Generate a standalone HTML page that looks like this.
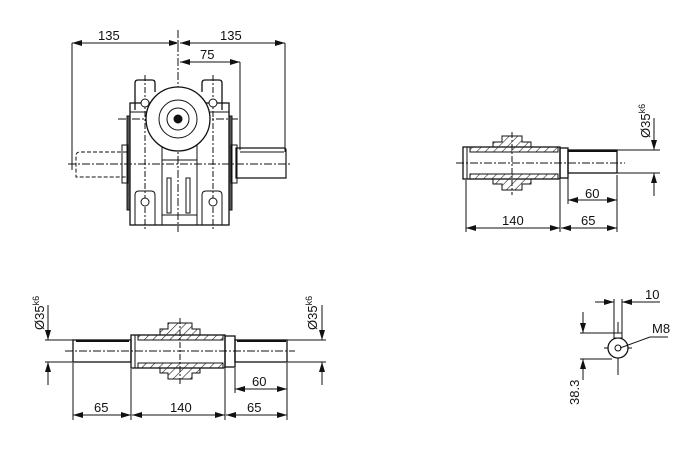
<!DOCTYPE html>
<html><head><meta charset="utf-8"><style>
html,body{margin:0;padding:0;background:#fff;}
svg{display:block;}
text{font-family:"Liberation Sans",Arial,sans-serif;font-size:13px;fill:#111;}
</style></head><body>
<svg width="694" height="449" viewBox="0 0 694 449" xmlns="http://www.w3.org/2000/svg">
<defs>
<marker id="a" viewBox="0 0 10 6" refX="10" refY="3" markerWidth="10" markerHeight="6" orient="auto-start-reverse" markerUnits="userSpaceOnUse"><path d="M0,0L10,3L0,6z" fill="#111"/></marker>
<pattern id="h" width="6" height="6" patternUnits="userSpaceOnUse" patternTransform="rotate(45)"><line x1="0" y1="0" x2="0" y2="6" stroke="#222" stroke-width="1.2"/></pattern>
</defs>
<g stroke="#111" fill="none" stroke-width="1">
<line x1="72" y1="43" x2="72" y2="170"/><line x1="285" y1="43" x2="285" y2="152"/><line x1="240" y1="62" x2="240" y2="150"/>
<line x1="72" y1="43" x2="179" y2="43" marker-start="url(#a)" marker-end="url(#a)"/>
<line x1="180" y1="43" x2="285" y2="43" marker-start="url(#a)" marker-end="url(#a)"/>
<line x1="180" y1="62" x2="240" y2="62" marker-start="url(#a)" marker-end="url(#a)"/>
<line x1="178" y1="30" x2="178" y2="232" stroke-dasharray="8,2,2,2"/>
<line x1="118" y1="119" x2="240" y2="119" stroke-dasharray="8,2,2,2"/>
<line x1="68" y1="164" x2="290" y2="164" stroke-dasharray="8,2,2,2"/>
<line x1="145" y1="75" x2="145" y2="230" stroke-dasharray="6,2,2,2"/>
<line x1="213" y1="75" x2="213" y2="230" stroke-dasharray="6,2,2,2"/>
<path d="M135,110 V83 Q135,80 138,80 H152 Q155,80 155,83 V92 M202,92 V83 Q202,80 205,80 H219 Q222,80 222,83 V110" stroke-width="1.3"/>
<rect x="130" y="103" width="99" height="122" stroke-width="1.3"/>
<line x1="130" y1="112" x2="229" y2="112"/>
<line x1="162" y1="140" x2="162" y2="225"/><line x1="197" y1="140" x2="197" y2="225"/>
<line x1="162" y1="160" x2="197" y2="160"/><line x1="162" y1="215" x2="197" y2="215"/>
<rect x="167" y="178" width="4" height="35"/><rect x="186" y="178" width="4" height="35"/>
<path d="M135,225 V195 Q135,191 139,191 H151 Q155,191 155,195 V225 M202,225 V195 Q202,191 206,191 H218 Q222,191 222,195 V225"/>
<rect x="127" y="116" width="3" height="94" fill="#555"/><rect x="229" y="116" width="3" height="94" fill="#555"/>
<rect x="122" y="145" width="6" height="38"/><rect x="231" y="145" width="6" height="38"/>
<circle cx="178" cy="119" r="32" fill="#fff" stroke-width="1.3"/>
<circle cx="178" cy="119" r="19"/><circle cx="178" cy="119" r="11"/><circle cx="178" cy="119" r="4" fill="#111"/>
<circle cx="145" cy="103" r="4" fill="#fff"/><circle cx="213" cy="103" r="4" fill="#fff"/>
<circle cx="145" cy="202" r="4" fill="#fff"/><circle cx="213" cy="202" r="4" fill="#fff"/>
<path d="M236,148 H284 Q286,148 286,150 V178 H236 Z" stroke-width="1.2"/>
<line x1="240" y1="152" x2="284" y2="152"/>
<path d="M127,152 H80 Q76,152 76,156 V177 H127" stroke-dasharray="4,2"/>
<line x1="456" y1="163" x2="625" y2="163" stroke-dasharray="8,2,2,2"/>
<line x1="512" y1="132" x2="512" y2="195" stroke-dasharray="6,2,2,2"/>
<rect x="463" y="147" width="97" height="32" stroke-width="1.3"/>
<line x1="467" y1="147" x2="467" y2="179"/>
<path d="M470,147 H493 V142 H502 V136 H522 V142 H531 V147 H558 V152 H470Z" fill="url(#h)"/>
<path d="M470,179 H493 V184 H502 V190 H522 V184 H531 V179 H558 V174 H470Z" fill="url(#h)"/>
<rect x="560" y="148" width="8" height="30" stroke-width="1.3"/>
<rect x="568" y="150" width="49" height="23" stroke-width="1.3"/>
<line x1="568" y1="151" x2="617" y2="151" stroke-width="2"/>
<line x1="617" y1="150" x2="660" y2="150"/><line x1="617" y1="173" x2="660" y2="173"/>
<line x1="654" y1="118" x2="654" y2="150" marker-end="url(#a)"/>
<line x1="654" y1="196" x2="654" y2="173" marker-end="url(#a)"/>
<line x1="466" y1="180" x2="466" y2="232"/><line x1="560" y1="180" x2="560" y2="232"/><line x1="617" y1="175" x2="617" y2="232"/><line x1="568" y1="178" x2="568" y2="204"/>
<line x1="568" y1="200" x2="617" y2="200" marker-start="url(#a)" marker-end="url(#a)"/>
<line x1="466" y1="228" x2="560" y2="228" marker-start="url(#a)" marker-end="url(#a)"/>
<line x1="561" y1="228" x2="617" y2="228" marker-start="url(#a)" marker-end="url(#a)"/>
<line x1="65" y1="351" x2="295" y2="351" stroke-dasharray="8,2,2,2"/>
<line x1="180" y1="318" x2="180" y2="384" stroke-dasharray="6,2,2,2"/>
<rect x="73" y="340" width="58" height="22" stroke-width="1.3"/>
<line x1="76" y1="341" x2="129" y2="341" stroke-width="2"/>
<rect x="131" y="335" width="94" height="33" stroke-width="1.3"/>
<line x1="135" y1="335" x2="135" y2="368"/>
<path d="M138,335 H160 V329 H168 V323 H192 V329 H200 V335 H223 V340 H138Z" fill="url(#h)"/>
<path d="M138,368 H160 V373 H168 V379 H192 V373 H200 V368 H223 V363 H138Z" fill="url(#h)"/>
<rect x="225" y="336" width="10" height="31" stroke-width="1.3"/>
<rect x="235" y="340" width="52" height="22" stroke-width="1.3"/>
<line x1="237" y1="341" x2="286" y2="341" stroke-width="2"/>
<line x1="45" y1="340" x2="73" y2="340"/><line x1="45" y1="362" x2="73" y2="362"/>
<line x1="287" y1="340" x2="326" y2="340"/><line x1="287" y1="362" x2="326" y2="362"/>
<line x1="48" y1="305" x2="48" y2="340" marker-end="url(#a)"/><line x1="48" y1="385" x2="48" y2="362" marker-end="url(#a)"/>
<line x1="322" y1="305" x2="322" y2="340" marker-end="url(#a)"/><line x1="322" y1="385" x2="322" y2="362" marker-end="url(#a)"/>
<line x1="73" y1="363" x2="73" y2="420"/><line x1="131" y1="369" x2="131" y2="420"/><line x1="225" y1="369" x2="225" y2="420"/><line x1="287" y1="363" x2="287" y2="420"/><line x1="235" y1="368" x2="235" y2="393"/>
<line x1="235" y1="389" x2="287" y2="389" marker-start="url(#a)" marker-end="url(#a)"/>
<line x1="73" y1="415" x2="131" y2="415" marker-start="url(#a)" marker-end="url(#a)"/>
<line x1="132" y1="415" x2="225" y2="415" marker-start="url(#a)" marker-end="url(#a)"/>
<line x1="226" y1="415" x2="287" y2="415" marker-start="url(#a)" marker-end="url(#a)"/>
<line x1="604" y1="348" x2="632" y2="348"/><line x1="618" y1="322" x2="618" y2="375"/>
<circle cx="618" cy="348" r="10" fill="#fff" stroke-width="1.3"/>
<circle cx="618" cy="348" r="3"/>
<rect x="614" y="333" width="8" height="5" fill="#fff"/>
<line x1="614" y1="299" x2="614" y2="334"/><line x1="622" y1="299" x2="622" y2="334"/>
<line x1="595" y1="302" x2="614" y2="302" marker-end="url(#a)"/>
<line x1="640" y1="302" x2="622" y2="302" marker-end="url(#a)"/>
<line x1="622" y1="302" x2="660" y2="302"/>
<line x1="620" y1="348" x2="650" y2="337"/><line x1="650" y1="337" x2="668" y2="337"/>
<line x1="580" y1="333" x2="614" y2="333"/><line x1="580" y1="359" x2="612" y2="359"/>
<line x1="583" y1="312" x2="583" y2="333" marker-end="url(#a)"/>
<line x1="583" y1="380" x2="583" y2="359" marker-end="url(#a)"/>
</g>
<text x="98" y="40">135</text><text x="220" y="40">135</text><text x="200" y="59">75</text>
<text x="585" y="198">60</text><text x="502" y="225">140</text><text x="581" y="225">65</text>
<text x="252" y="386">60</text><text x="94" y="412">65</text><text x="170" y="412">140</text><text x="247" y="412">65</text>
<text x="645" y="299">10</text><text x="652" y="333">M8</text>
<text transform="translate(650,138) rotate(-90)">Ø35<tspan font-size="9" dy="-5">k6</tspan></text>
<text transform="translate(44,330) rotate(-90)">Ø35<tspan font-size="9" dy="-5">k6</tspan></text>
<text transform="translate(317,330) rotate(-90)">Ø35<tspan font-size="9" dy="-5">k6</tspan></text>
<text transform="translate(579,405) rotate(-90)">38.3</text>
</svg>
</body></html>
